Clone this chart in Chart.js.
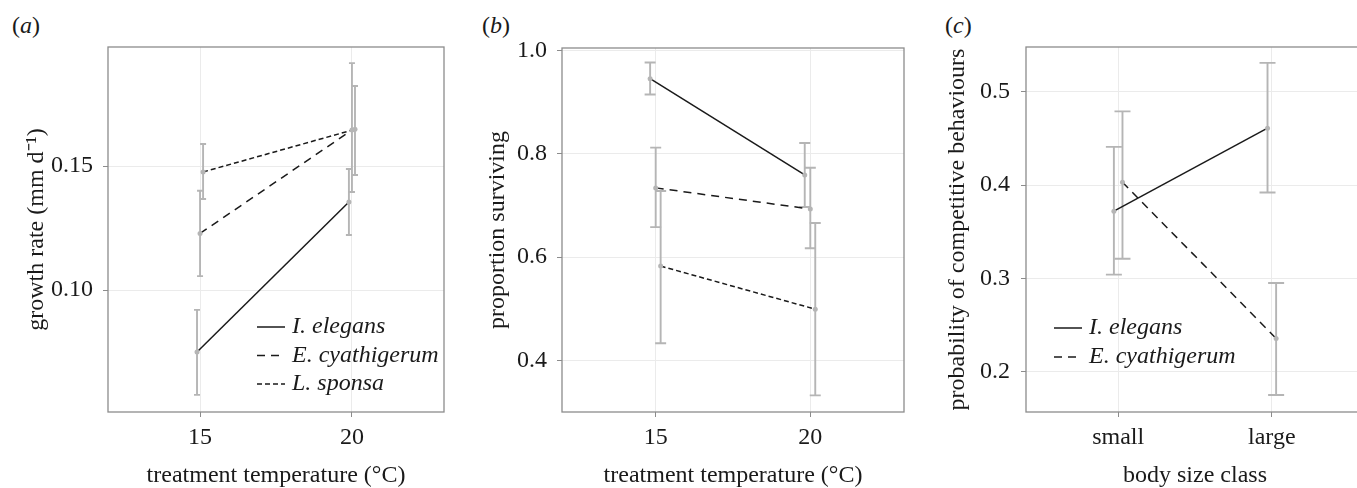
<!DOCTYPE html>
<html lang="en">
<head>
<meta charset="UTF-8">
<title>Growth, survival and competitive behaviour</title>
<script src="https://cdn.jsdelivr.net/npm/chart.js"></script>
<style>
  body { margin: 0; background: #fff; overflow: hidden; }
  #wrap { position: relative; width: 1357px; height: 488px; overflow: hidden; font-family: 'Liberation Serif', serif; }
  canvas { position: absolute; top: 0; }
  .tag { position: absolute; top: 11px; font-size: 24px; line-height: 28px; color: #1a1a1a; }
</style>
</head>
<body>
<div id="wrap">
  <div class="tag" style="left:12px">(<i>a</i>)</div>
  <div class="tag" style="left:482px">(<i>b</i>)</div>
  <div class="tag" style="left:945px">(<i>c</i>)</div>
  <canvas id="chartA" width="450" height="488" style="left:0"></canvas>
  <canvas id="chartB" width="460" height="488" style="left:450px"></canvas>
  <canvas id="chartC" width="465" height="488" style="left:910px"></canvas>
</div>

<script>
  // valores
  const temps = [15, 20];
  const sizeClasses = ['small', 'large'];
  const sizePos = [1, 2];

  const tempTicks = [15, 20];
  const growthTicks = [0.10, 0.15];
  const survTicks = [0.4, 0.6, 0.8, 1.0];
  const compTicks = [0.2, 0.3, 0.4, 0.5];

  // (a) growth rate
  const growthIE = [0.075, 0.1355];
  const growthIELow = [0.0577, 0.1222];
  const growthIEHigh = [0.092, 0.1488];
  const growthEC = [0.1228, 0.1645];
  const growthECLow = [0.1056, 0.1395];
  const growthECHigh = [0.140, 0.1915];
  const growthLS = [0.1476, 0.1648];
  const growthLSLow = [0.1367, 0.1464];
  const growthLSHigh = [0.1589, 0.1823];

  // (b) proportion surviving
  const survIE = [0.9456, 0.759];
  const survIELow = [0.915, 0.697];
  const survIEHigh = [0.977, 0.821];
  const survEC = [0.734, 0.693];
  const survECLow = [0.658, 0.617];
  const survECHigh = [0.812, 0.773];
  const survLS = [0.5825, 0.499];
  const survLSLow = [0.433, 0.332];
  const survLSHigh = [0.728, 0.666];

  // (c) probability of competitive behaviours
  const compIE = [0.372, 0.461];
  const compIELow = [0.304, 0.392];
  const compIEHigh = [0.441, 0.531];
  const compEC = [0.403, 0.2357];
  const compECLow = [0.321, 0.175];
  const compECHigh = [0.479, 0.295];

  const INK = '#1a1a1a';
  const GREY = '#b5b5b5';
  const FRAME = '#8c8c8c';
  const DASH_EC = [8, 6];
  const DASH_LS = [5, 3];

  Chart.defaults.font.family = "'Liberation Serif', serif";
  Chart.defaults.font.size = 24;
  Chart.defaults.color = INK;

  const panelBox = {
    id: 'panelBox',
    beforeDatasetsDraw(chart) {
      const { ctx, chartArea: a } = chart;
      ctx.save();
      ctx.strokeStyle = FRAME;
      ctx.lineWidth = 1.3;
      ctx.strokeRect(a.left, a.top, a.right - a.left, a.bottom - a.top);
      ctx.restore();
    }
  };

  const errorBars = {
    id: 'errorBars',
    beforeDatasetsDraw(chart, args, opts) {
      const { ctx, scales: { x, y } } = chart;
      ctx.save();
      ctx.strokeStyle = GREY;
      ctx.lineWidth = 1.9;
      chart.data.datasets.forEach(ds => {
        ds.data.forEach((p, i) => {
          const px = x.getPixelForValue(p.x);
          const lo = y.getPixelForValue(ds.errLow[i]);
          const hi = y.getPixelForValue(ds.errHigh[i]);
          ctx.beginPath();
          ctx.moveTo(px, lo); ctx.lineTo(px, hi);
          ctx.moveTo(px - opts.cap, lo); ctx.lineTo(px + opts.cap, lo);
          ctx.moveTo(px - opts.cap, hi); ctx.lineTo(px + opts.cap, hi);
          ctx.stroke();
        });
      });
      ctx.restore();
    }
  };

  // legenda desenhada dentro do painel
  const seriesKey = {
    id: 'seriesKey',
    afterDatasetsDraw(chart, args, opts) {
      if (!opts.show) return;
      const ctx = chart.ctx;
      ctx.save();
      ctx.font = "italic 24px 'Liberation Serif', serif";
      ctx.textBaseline = 'middle';
      chart.data.datasets.forEach((ds, i) => {
        const y = opts.y + i * opts.dy;
        ctx.strokeStyle = INK;
        ctx.lineWidth = 1.5;
        ctx.setLineDash(ds.borderDash || []);
        ctx.beginPath();
        ctx.moveTo(opts.x, y);
        ctx.lineTo(opts.x + 28, y);
        ctx.stroke();
        ctx.setLineDash([]);
        ctx.fillStyle = INK;
        ctx.fillText(ds.label, opts.x + 35, y);
      });
      ctx.restore();
    }
  };

  function series(label, xs, ys, lo, hi, dash, shift) {
    return {
      label: label,
      data: xs.map((x, i) => ({ x: x + shift, y: ys[i] })),
      errLow: lo,
      errHigh: hi,
      borderDash: dash,
      borderColor: INK,
      borderWidth: 1.5,
      pointRadius: 2.5,
      pointBorderWidth: 0,
      pointBackgroundColor: GREY,
      fill: false,
      tension: 0
    };
  }

  function panel(id, datasets, o) {
    const grid = { color: '#ebebeb', lineWidth: 1, tickColor: FRAME, tickLength: 5 };
    return new Chart(document.getElementById(id), {
      type: 'line',
      data: { datasets: datasets },
      plugins: [panelBox, errorBars, seriesKey],
      options: {
        responsive: false,
        animation: false,
        layout: { padding: { top: o.top, right: o.right, left: 0, bottom: 0 } },
        plugins: {
          legend: { display: false },
          tooltip: { enabled: false },
          errorBars: { cap: o.cap },
          seriesKey: o.key
        },
        scales: {
          x: {
            type: 'linear',
            min: o.xMin, max: o.xMax,
            afterBuildTicks: s => { s.ticks = o.xTicks.map(v => ({ value: v })); },
            afterFit: s => { s.height = 76; },
            ticks: { padding: 6.5, color: INK, callback: o.xLabel },
            grid: grid,
            border: { display: false },
            title: { display: true, text: o.xTitle, color: INK, padding: 0, font: { lineHeight: 1 } }
          },
          y: {
            type: 'linear',
            min: o.yMin, max: o.yMax,
            afterBuildTicks: s => { s.ticks = o.yTicks.map(v => ({ value: v })); },
            afterFit: s => { s.width = o.yWidth; },
            ticks: { padding: o.tickPad, color: INK, callback: v => v.toFixed(o.digits) },
            grid: grid,
            border: { display: false },
            title: { display: true, text: o.yTitle, color: INK, padding: { top: o.titlePad, bottom: 0 }, font: { lineHeight: 1 } }
          }
        }
      }
    });
  }

  panel('chartA', [
    series('I. elegans', temps, growthIE, growthIELow, growthIEHigh, [], -0.1),
    series('E. cyathigerum', temps, growthEC, growthECLow, growthECHigh, DASH_EC, 0),
    series('L. sponsa', temps, growthLS, growthLSLow, growthLSHigh, DASH_LS, 0.1)
  ], {
    top: 47, right: 6, yWidth: 108, tickPad: 10, titlePad: 25, cap: 3,
    xMin: 11.97, xMax: 23.03, xTicks: tempTicks, xLabel: v => String(v),
    yMin: 0.0508, yMax: 0.198, yTicks: growthTicks, digits: 2,
    xTitle: 'treatment temperature (°C)', yTitle: 'growth rate (mm d⁻¹)',
    key: { show: true, x: 257, y: 327, dy: 28.5 }
  });

  panel('chartB', [
    series('I. elegans', temps, survIE, survIELow, survIEHigh, [], -0.18),
    series('E. cyathigerum', temps, survEC, survECLow, survECHigh, DASH_EC, 0),
    series('L. sponsa', temps, survLS, survLSLow, survLSHigh, DASH_LS, 0.16)
  ], {
    top: 48, right: 6, yWidth: 112, tickPad: 10, titlePad: 36, cap: 5.5,
    xMin: 11.97, xMax: 23.03, xTicks: tempTicks, xLabel: v => String(v),
    yMin: 0.2998, yMax: 1.005, yTicks: survTicks, digits: 1,
    xTitle: 'treatment temperature (°C)', yTitle: 'proportion surviving',
    key: { show: false }
  });

  panel('chartC', [
    series('I. elegans', sizePos, compIE, compIELow, compIEHigh, [], -0.028),
    series('E. cyathigerum', sizePos, compEC, compECLow, compECHigh, DASH_EC, 0.028)
  ], {
    top: 47, right: 11, yWidth: 116, tickPad: 11, titlePad: 36, cap: 8,
    xMin: 0.4, xMax: 2.6, xTicks: sizePos, xLabel: v => sizeClasses[sizePos.indexOf(v)],
    yMin: 0.1568, yMax: 0.548, yTicks: compTicks, digits: 1,
    xTitle: 'body size class', yTitle: 'probability of competitive behaviours',
    key: { show: true, x: 144, y: 328, dy: 29 }
  });
</script>
</body>
</html>
